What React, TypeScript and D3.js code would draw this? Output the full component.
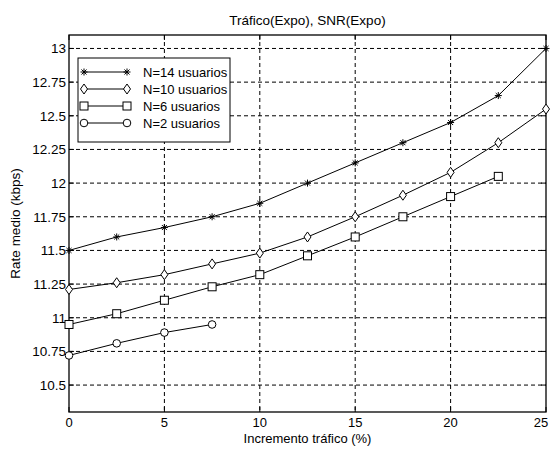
import React from "react";
import * as d3 from "d3";

const xs14 = [0, 2.5, 5, 7.5, 10, 12.5, 15, 17.5, 20, 22.5, 25];
const n14 = [11.5, 11.6, 11.67, 11.75, 11.85, 12.0, 12.15, 12.3, 12.45, 12.65, 13.0];
const n10 = [11.21, 11.26, 11.32, 11.4, 11.48, 11.6, 11.75, 11.91, 12.08, 12.3, 12.55];
const xs6 = [0, 2.5, 5, 7.5, 10, 12.5, 15, 17.5, 20, 22.5];
const n6 = [10.95, 11.03, 11.13, 11.23, 11.32, 11.46, 11.6, 11.75, 11.9, 12.05];
const xs2 = [0, 2.5, 5, 7.5];
const n2 = [10.72, 10.81, 10.89, 10.95];
const xTicks = [0, 5, 10, 15, 20, 25];
const yTicks = [10.5, 10.75, 11, 11.25, 11.5, 11.75, 12, 12.25, 12.5, 12.75, 13];
const legendLabels = ["N=14 usuarios", "N=10 usuarios", "N=6 usuarios", "N=2 usuarios"];
const markers = ["star", "diamond", "square", "circle"];

const W = 552, H = 454;
const L = 69, R = 546, T = 35, B = 412;
const font = "'Liberation Sans', Arial, sans-serif";

function Marker({ type, x, y }: { type: string; x: number; y: number }) {
  const s = { fill: "none", stroke: "#000", strokeWidth: 1 } as const;
  if (type === "star") {
    const r = 3.5;
    const d = r * 0.72;
    return (
      <g {...s}>
        <line x1={x - r} y1={y} x2={x + r} y2={y} />
        <line x1={x} y1={y - r} x2={x} y2={y + r} />
        <line x1={x - d} y1={y - d} x2={x + d} y2={y + d} />
        <line x1={x - d} y1={y + d} x2={x + d} y2={y - d} />
      </g>
    );
  }
  if (type === "diamond") {
    return <path d={`M${x},${y - 5}L${x + 3.5},${y}L${x},${y + 5}L${x - 3.5},${y}Z`} {...s} fill="#fff" />;
  }
  if (type === "square") {
    return <rect x={x - 4} y={y - 4} width={8} height={8} {...s} fill="#fff" />;
  }
  return <circle cx={x} cy={y} r={3.8} {...s} fill="#fff" />;
}

export default function App() {
  const x = d3.scaleLinear().domain([0, 25]).range([L, R]);
  const y = d3.scaleLinear().domain([10.3, 13.1]).range([B, T]);
  const series = [
    { xs: xs14, ys: n14, m: markers[0] },
    { xs: xs14, ys: n10, m: markers[1] },
    { xs: xs6, ys: n6, m: markers[2] },
    { xs: xs2, ys: n2, m: markers[3] },
  ];
  const line = d3.line<[number, number]>().x((d) => x(d[0])).y((d) => y(d[1]));
  const fmt = (v: number) => String(+v.toFixed(2));
  const lgX = 78, lgY = 58, lgW = 152, lgH = 84;
  return (
    <svg width={W} height={H} style={{ position: "absolute", left: 0, top: 0, background: "#fff" }} fontFamily={font}>
      <rect x={0} y={0} width={W} height={H} fill="#fff" />
      {xTicks.slice(1, -1).map((t) => (
        <line key={"gx" + t} x1={x(t)} x2={x(t)} y1={T} y2={B} stroke="#000" strokeDasharray="4 3" />
      ))}
      {yTicks.map((t) => (
        <line key={"gy" + t} x1={L} x2={R} y1={y(t)} y2={y(t)} stroke="#000" strokeDasharray="4 3" />
      ))}
      {xTicks.map((t) => (
        <g key={"tx" + t}>
          <line x1={x(t)} x2={x(t)} y1={B} y2={B - 5} stroke="#000" />
          <line x1={x(t)} x2={x(t)} y1={T} y2={T + 5} stroke="#000" />
          <text x={Math.min(x(t), 541)} y={427} fontSize={13} textAnchor="middle">{t}</text>
        </g>
      ))}
      {yTicks.map((t) => (
        <g key={"ty" + t}>
          <line x1={L} x2={L + 5} y1={y(t)} y2={y(t)} stroke="#000" />
          <line x1={R} x2={R - 5} y1={y(t)} y2={y(t)} stroke="#000" />
          <text x={L - 3} y={y(t) + 5} fontSize={13.5} textAnchor="end">{fmt(t)}</text>
        </g>
      ))}
      <rect x={L} y={T} width={R - L} height={B - T} fill="none" stroke="#000" strokeWidth={1.3} />
      {series.map((s, i) => {
        const pts = s.xs.map((v, j) => [v, s.ys[j]] as [number, number]);
        return (
          <g key={"s" + i}>
            <path d={line(pts) || ""} fill="none" stroke="#000" strokeWidth={1} />
            {pts.map((p, j) => (
              <Marker key={j} type={s.m} x={x(p[0])} y={y(p[1])} />
            ))}
          </g>
        );
      })}
      <rect x={lgX} y={lgY} width={lgW} height={lgH} fill="#fff" stroke="#000" />
      {legendLabels.map((lab, i) => {
        const yy = 72 + i * 17;
        return (
          <g key={"lg" + i}>
            <line x1={84} x2={127} y1={yy} y2={yy} stroke="#000" />
            <Marker type={markers[i]} x={84} y={yy} />
            <Marker type={markers[i]} x={127} y={yy} />
            <text x={143} y={yy + 4.5} fontSize={13}>{lab}</text>
          </g>
        );
      })}
      <text x={(L + R) / 2} y={25} fontSize={13.5} textAnchor="middle">Tráfico(Expo), SNR(Expo)</text>
      <text x={(L + R) / 2} y={443} fontSize={13} textAnchor="middle">Incremento tráfico (%)</text>
      <text transform={`translate(20,${(T + B) / 2}) rotate(-90)`} fontSize={13.5} textAnchor="middle">Rate medio (kbps)</text>
    </svg>
  );
}
